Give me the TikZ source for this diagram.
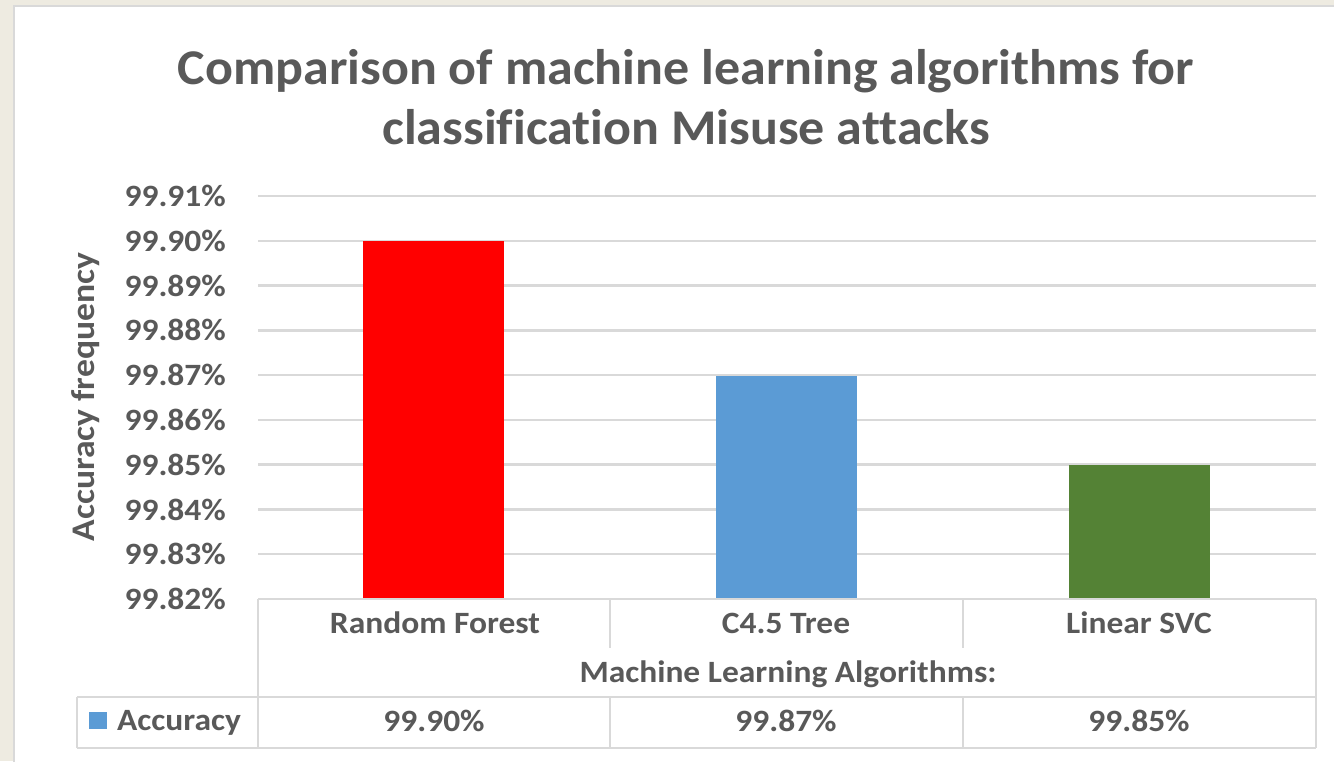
\documentclass[tikz,border=0pt]{standalone}
\usepackage{fontspec}
\setmainfont{Carlito}[FakeStretch=1.08,Ligatures=CommonOff]
\newfontfamily\titlefont{Carlito}[FakeStretch=1.04,Ligatures=CommonOff]
\usetikzlibrary{positioning}
\definecolor{chartgray}{HTML}{595959}
\definecolor{gridgray}{HTML}{D9D9D9}
\definecolor{pagebeige}{HTML}{EEEBE1}
\definecolor{rfred}{HTML}{FF0000}
\definecolor{treeblue}{HTML}{5B9BD5}
\definecolor{svcgreen}{HTML}{548235}
\tikzset{
  titletext/.style={font=\titlefont\fontsize{50}{60}\selectfont\bfseries,text=chartgray,align=center},
  ticklabel/.style={anchor=east,inner sep=0pt,font=\fontsize{31}{31}\selectfont\bfseries,text=chartgray},
  celltext/.style={inner sep=0pt,font=\fontsize{31}{31}\selectfont\bfseries,text=chartgray},
  gridline/.style={draw=gridgray,line width=2.5pt},
  tableline/.style={draw=gridgray,line width=2.5pt},
}

\begin{document}
\begin{tikzpicture}[x=1pt,y=-1pt]
  \useasboundingbox (0,0) rectangle (1334,761);
  \fill[pagebeige] (0,0) rectangle (1334,761);
  \filldraw[fill=white,draw=gridgray,line width=2.5pt] (14,6) rectangle (1345,775);

  % title
  \node[titletext] (title) at (686,97) {Comparison of machine learning algorithms for\\classification Misuse attacks};

  % grid and value axis
  \foreach \v [count=\i from 0] in {82,83,84,85,86,87,88,89,90,91} {
    \draw[gridline] (258,599-\i*44.78) -- (1316,599-\i*44.78);
    \node[ticklabel] (tick\v) at (226,599-\i*44.78) {99.\v\%};
  }
  \node[celltext,rotate=90,font=\fontsize{33}{33}\selectfont\bfseries] (ytitle) at (86,397) {Accuracy frequency};

  % bars
  \fill[rfred]    (363,599) rectangle (504,241);
  \fill[treeblue] (716,599) rectangle (857,376);
  \fill[svcgreen] (1069,599) rectangle (1210,465);

  % data table
  \draw[tableline] (258,599) -- (1316,599);
  \draw[tableline] (258,599) -- (258,748);
  \draw[tableline] (1316,599) -- (1316,748);
  \draw[tableline] (610,599) -- (610,648);
  \draw[tableline] (963,599) -- (963,648);
  \draw[tableline] (77,697) -- (1316,697);
  \draw[tableline] (77,748) -- (1316,748);
  \draw[tableline] (77,697) -- (77,748);
  \draw[tableline] (610,697) -- (610,748);
  \draw[tableline] (963,697) -- (963,748);

  \node[celltext] (catrf)   at (435,623) {Random Forest};
  \node[celltext] (cattree) at (786,623) {C4.5 Tree};
  \node[celltext] (catsvc)  at (1139,623) {Linear SVC};
  \node[celltext] (xtitle)  at (788,674) {Machine Learning Algorithms:};

  \fill[treeblue] (89,712) rectangle (107,729);
  \node[celltext,anchor=west] (legacc) at (117,723) {Accuracy};
  \node[celltext] (valrf)   at (434,721) {99.90\%};
  \node[celltext] (valtree) at (786,721) {99.87\%};
  \node[celltext] (valsvc)  at (1139,721) {99.85\%};
\end{tikzpicture}
\end{document}
